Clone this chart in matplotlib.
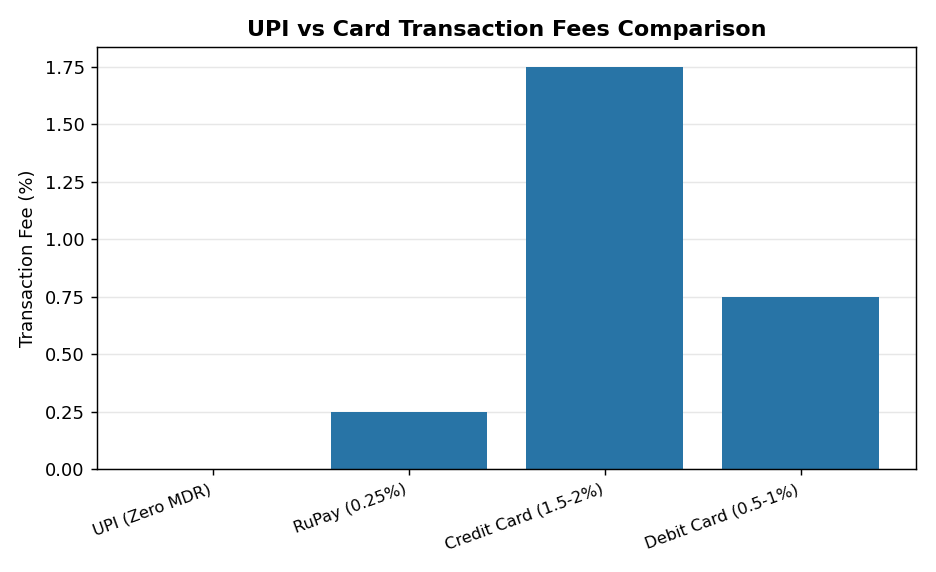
import matplotlib
matplotlib.use("Agg")
import matplotlib.pyplot as plt

# fee data (percent)
methods = ["UPI (Zero MDR)", "RuPay (0.25%)", "Credit Card (1.5-2%)", "Debit Card (0.5-1%)"]
fees = [0.0, 0.25, 1.75, 0.75]

fig, ax = plt.subplots(figsize=(7.2, 4.4), dpi=130)
ax.bar(methods, fees, color="#2874a6")
ax.set_title("UPI vs Card Transaction Fees Comparison", fontsize=12.3, fontweight="bold")
ax.set_ylabel("Transaction Fee (%)", fontsize=10)
ax.tick_params(axis="y", labelsize=10)
ax.tick_params(axis="x", labelsize=9)
ax.grid(axis="y", alpha=0.3)
ax.set_axisbelow(True)
plt.setp(ax.get_xticklabels(), rotation=20, ha="right")

fig.subplots_adjust(left=0.104, right=0.979, top=0.918, bottom=0.18)
fig.savefig("out.png", dpi=130)
